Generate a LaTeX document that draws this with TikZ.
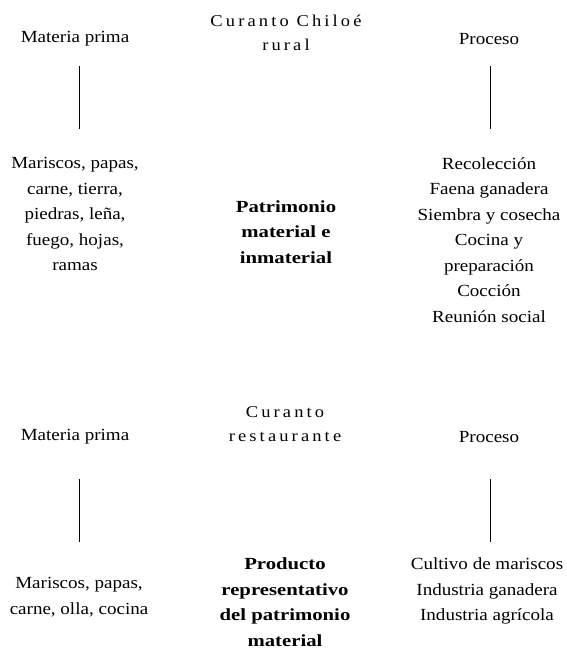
\documentclass[tikz,border=0pt]{standalone}
\usepackage{fontspec}
\setmainfont{Liberation Serif}[FakeStretch=1.12]
\newfontfamily\boldfam{Liberation Serif}[FakeStretch=1.22]
\newfontfamily\spacedfam{Liberation Serif}[FakeStretch=1.12,LetterSpace=19]
\begin{document}
\begin{tikzpicture}[x=1pt,y=-1pt,
  txt/.style={inner sep=0pt,align=center,font=\fontsize{17}{25.5}\selectfont},
  boldtxt/.style={inner sep=0pt,align=center,font=\fontsize{17}{25.5}\boldfam\bfseries},
  spaced/.style={inner sep=0pt,align=center,font=\fontsize{16.5}{24}\spacedfam},
  vline/.style={line width=0.9pt,black}]
\useasboundingbox (0,0) rectangle (566,649);
% top section
\node[spaced] (t1) at (286,33) {Curanto Chiloé\\rural};
\node[txt] (mp1) at (75,39) {Materia prima};
\node[txt] (pr1) at (489,39) {Proceso};
\coordinate (l1a) at (79,66);
\coordinate (l1b) at (79,129);
\coordinate (r1a) at (490,66);
\coordinate (r1b) at (490,129);
\draw[vline] (l1a) -- (l1b);
\draw[vline] (r1a) -- (r1b);
\node[txt] (ml1) at (75,214) {Mariscos, papas,\\carne, tierra,\\piedras, leña,\\fuego, hojas,\\ramas};
\node[boldtxt] (c1) at (286,232) {Patrimonio\\material e\\inmaterial};
\node[txt] (pl1) at (489,240) {Recolección\\Faena ganadera\\Siembra y cosecha\\Cocina y\\preparación\\Cocción\\Reunión social};
% bottom section
\node[spaced] (t2) at (285,424) {Curanto\\restaurante};
\node[txt] (mp2) at (75,437) {Materia prima};
\node[txt] (pr2) at (489,437) {Proceso};
\coordinate (l2a) at (79,479);
\coordinate (l2b) at (79,542);
\coordinate (r2a) at (490,479);
\coordinate (r2b) at (490,542);
\draw[vline] (l2a) -- (l2b);
\draw[vline] (r2a) -- (r2b);
\node[txt] (ml2) at (79,597) {Mariscos, papas,\\carne, olla, cocina};
\node[boldtxt] (c2) at (285,602) {Producto\\representativo\\del patrimonio\\material};
\node[txt] (pl2) at (487,591) {Cultivo de mariscos\\Industria ganadera\\Industria agrícola};
\end{tikzpicture}
\end{document}
